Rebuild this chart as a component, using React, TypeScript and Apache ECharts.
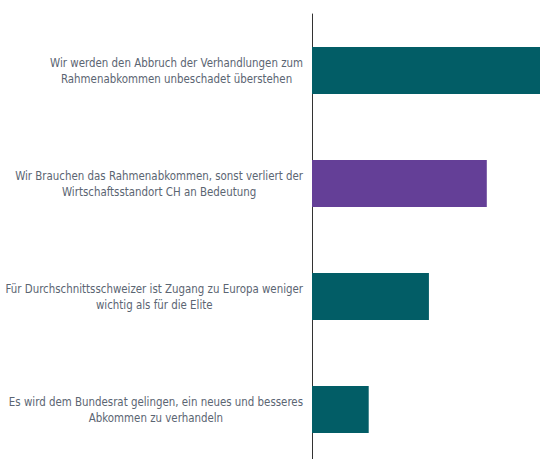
import React, { useEffect, useRef } from "react";
import * as echarts from "echarts";

const categories: string[] = [
  "Wir werden den Abbruch der Verhandlungen zum\nRahmenabkommen unbeschadet überstehen",
  "Wir Brauchen das Rahmenabkommen, sonst verliert der\nWirtschaftsstandort CH an Bedeutung",
  "Für Durchschnittsschweizer ist Zugang zu Europa weniger\nwichtig als für die Elite",
  "Es wird dem Bundesrat gelingen, ein neues und besseres\nAbkommen zu verhandeln",
];
const values: number[] = [39, 29.9, 20, 9.7];
const barColors: string[] = ["#025d66", "#643f97", "#025d66", "#025d66"];

const FONT = "DejaVu Sans Condensed, Roboto, sans-serif";

export default function App() {
  const ref = useRef<HTMLDivElement>(null);
  useEffect(() => {
    if (!ref.current) return;
    const chart = echarts.init(ref.current, undefined, { renderer: "svg" });
    chart.setOption({
      animation: false,
      grid: { left: 312, right: 0, top: 14, bottom: -7, containLabel: false, outerBoundsMode: "none" },
      xAxis: {
        type: "value",
        min: 0,
        max: 39,
        show: false,
      },
      yAxis: {
        type: "category",
        data: categories,
        inverse: true,
        axisLine: { show: true, lineStyle: { color: "#333", width: 1 } },
        axisTick: { show: false },
        axisLabel: {
          margin: 9,
          color: "#5b6572",
          fontFamily: FONT,
          fontSize: 11.4,
          lineHeight: 16,
          formatter: (v: string) =>
            v
              .split("\n")
              .map((l) => `{a|${l}}`)
              .join("\n"),
          rich: {
            a: {
              align: "center",
              color: "#5b6572",
              fontFamily: FONT,
              fontSize: 11.4,
              lineHeight: 16,
            },
          },
        },
      },
      series: [
        {
          type: "bar",
          barWidth: 47,
          data: values.map((v, i) => ({ value: v, itemStyle: { color: barColors[i] } })),
        },
      ],
    });
    return () => chart.dispose();
  }, []);
  return <div ref={ref} style={{ width: 540, height: 459, position: "absolute", left: 0, top: 0 }} />;
}
